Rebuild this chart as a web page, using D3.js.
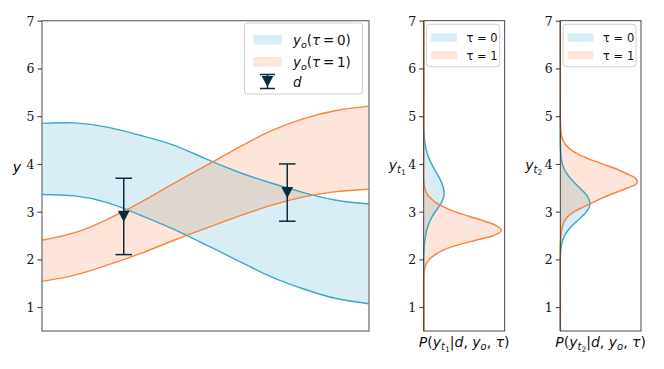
<!DOCTYPE html>
<html><head><meta charset="utf-8">
<script src="https://cdn.jsdelivr.net/npm/d3@7"></script>
<style>
html,body{margin:0;padding:0;background:#fff;}
svg{display:block;}
</style></head>
<body>
<svg id="c" width="664" height="369"></svg>
<script>
// ---- main panel data ----
const xs = [0,1,2,3,4,5,6,7,8,9,10];
const blueUpper   = [4.85,4.86,4.77,4.60,4.40,4.11,3.83,3.60,3.40,3.24,3.16];
const blueLower   = [3.36,3.33,3.19,2.93,2.64,2.31,1.97,1.64,1.38,1.18,1.07];
const orangeUpper = [2.40,2.56,2.84,3.19,3.58,3.96,4.34,4.69,4.95,5.12,5.21];
const orangeLower = [1.54,1.67,1.88,2.12,2.39,2.65,2.90,3.13,3.31,3.42,3.47];
const obsX = [2.5, 7.5];
const obsY = [2.9, 3.4];
const obsErr = [0.8, 0.6];
const yTicks = [1,2,3,4,5,6,7];

// ---- density panels (y grid, density) ----
const p1BlueY   = [0.5,1.5,2.0,2.1,2.2,2.3,2.4,2.5,2.6,2.7,2.8,2.9,3.0,3.1,3.2,3.3,3.4,3.5,3.6,3.7,3.8,3.9,4.0,4.1,4.2,4.3,4.4,4.5,4.6,4.7,4.8,5.3,7.0];
const p1BlueP   = [0,0,0,0.002,0.007,0.014,0.028,0.045,0.066,0.101,0.145,0.202,0.274,0.352,0.420,0.465,0.476,0.460,0.422,0.371,0.307,0.244,0.185,0.131,0.091,0.059,0.038,0.021,0.012,0.005,0,0,0];
const p1OrangeY = [0.5,1.1,1.6,1.7,1.8,1.9,2.0,2.1,2.2,2.3,2.4,2.5,2.6,2.7,2.8,2.9,3.0,3.1,3.2,3.3,3.4,3.5,3.6,3.7,4.2,7.0];
const p1OrangeP = [0,0,0,0.007,0.021,0.054,0.129,0.270,0.469,0.798,1.220,1.642,1.823,1.713,1.431,1.079,0.727,0.469,0.270,0.141,0.061,0.023,0.007,0,0,0];
const p2BlueY   = [0.5,1.5,2.0,2.1,2.2,2.3,2.4,2.5,2.6,2.7,2.8,2.9,3.0,3.1,3.2,3.3,3.4,3.5,3.6,3.7,3.8,3.9,4.0,4.1,4.2,4.3,4.4,4.5,5.0,7.0];
const p2BlueP   = [0,0,0,0.005,0.012,0.028,0.056,0.103,0.174,0.272,0.389,0.511,0.617,0.683,0.694,0.652,0.568,0.457,0.343,0.237,0.152,0.089,0.049,0.026,0.013,0.006,0.002,0,0,0];
const p2OrangeY = [0.5,1.8,2.3,2.4,2.5,2.6,2.7,2.8,2.9,3.0,3.1,3.2,3.3,3.4,3.5,3.6,3.7,3.8,3.9,4.0,4.1,4.2,4.3,4.4,4.5,4.6,4.7,4.8,4.9,5.4,7.0];
const p2OrangeP = [0,0,0,0.006,0.014,0.028,0.054,0.096,0.178,0.328,0.551,0.786,1.023,1.304,1.595,1.806,1.771,1.548,1.311,0.988,0.680,0.427,0.246,0.129,0.063,0.028,0.012,0.005,0,0,0];
const densMax = 1.9;

const BLUE = "#3fa7c8", ORANGE = "#f7843f", NAVY = "#0f2a3d";
const svg = d3.select("#c");
const TICKFONT = "DejaVu Serif";
const MATHFONT = "DejaVu Sans";

const yTop = 20.7, yBot = 331;
const y = d3.scaleLinear().domain([0.5, 7]).range([yBot, yTop]);

function yAxis(g, x0) {
  const ax = d3.axisLeft(y).tickValues(yTicks).tickFormat(d3.format("d")).tickSize(4.5).tickPadding(3);
  const a = g.append("g").attr("transform", `translate(${x0},0)`).call(ax);
  a.select(".domain").remove();
  a.selectAll("line").attr("stroke", "#333").attr("stroke-width", 1);
  a.selectAll("text").attr("font-family", TICKFONT).attr("font-size", 12.5).attr("fill", "#111").attr("dy", "0.36em");
}

// ---- main panel ----
const mL = 42, mR = 369;
const x = d3.scaleLinear().domain([0, 10]).range([mL, mR]);
const main = svg.append("g");
const pts = xs.map((v, i) => ({x: v, bu: blueUpper[i], bl: blueLower[i], ou: orangeUpper[i], ol: orangeLower[i]}));
const curve = d3.curveNatural;
main.append("path").datum(pts)
  .attr("d", d3.area().x(d => x(d.x)).y0(d => y(d.bl)).y1(d => y(d.bu)).curve(curve))
  .attr("fill", BLUE).attr("fill-opacity", 0.2);
main.append("path").datum(pts)
  .attr("d", d3.area().x(d => x(d.x)).y0(d => y(d.ol)).y1(d => y(d.ou)).curve(curve))
  .attr("fill", ORANGE).attr("fill-opacity", 0.2);
[["bu", BLUE], ["bl", BLUE], ["ou", ORANGE], ["ol", ORANGE]].forEach(([k, c]) => {
  main.append("path").datum(pts)
    .attr("d", d3.line().x(d => x(d.x)).y(d => y(d[k])).curve(curve))
    .attr("fill", "none").attr("stroke", c).attr("stroke-width", 1.4);
});
// error bars
const tri = (cx, cy, s) => `M${cx - s},${cy - s * 0.95}L${cx + s},${cy - s * 0.95}L${cx},${cy + s * 0.95}Z`;
obsX.forEach((ox, i) => {
  const cx = x(ox), lo = y(obsY[i] - obsErr[i]), hi = y(obsY[i] + obsErr[i]), cw = 8.3;
  main.append("line").attr("x1", cx).attr("x2", cx).attr("y1", lo).attr("y2", hi).attr("stroke", NAVY).attr("stroke-width", 1.5);
  main.append("line").attr("x1", cx - cw).attr("x2", cx + cw).attr("y1", lo).attr("y2", lo).attr("stroke", NAVY).attr("stroke-width", 1.5);
  main.append("line").attr("x1", cx - cw).attr("x2", cx + cw).attr("y1", hi).attr("y2", hi).attr("stroke", NAVY).attr("stroke-width", 1.5);
  main.append("path").attr("d", tri(cx, y(obsY[i]), 5.9)).attr("fill", NAVY);
});
main.append("rect").attr("x", mL).attr("y", yTop).attr("width", mR - mL).attr("height", yBot - yTop)
  .attr("fill", "none").attr("stroke", "#777").attr("stroke-width", 1.3);
yAxis(main, mL);
main.append("text").attr("x", 21).attr("y", 172).attr("text-anchor", "end")
  .attr("font-family", MATHFONT).attr("font-style", "italic").attr("font-size", 14).text("y");

// main legend
const lg = main.append("g");
lg.append("rect").attr("x", 244.5).attr("y", 23).attr("width", 118).attr("height", 71).attr("rx", 3)
  .attr("fill", "#fff").attr("fill-opacity", 0.85).attr("stroke", "#d0d0d0");
function yoLabel(t, tx, ty, val) {
  const tt = t.append("text").attr("x", tx).attr("y", ty).attr("font-family", MATHFONT).attr("font-size", 13.5).attr("fill", "#111");
  tt.append("tspan").attr("font-style", "italic").text("y");
  tt.append("tspan").attr("font-style", "italic").attr("font-size", 9.5).attr("dy", 3).text("o");
  tt.append("tspan").attr("dy", -3).text("(");
  tt.append("tspan").attr("font-style", "italic").text("τ");
  tt.append("tspan").text("\u2009=\u2009" + val + ")");
}
lg.append("rect").attr("x", 253.3).attr("y", 35).attr("width", 28.4).attr("height", 9.5).attr("fill", BLUE).attr("fill-opacity", 0.2);
yoLabel(lg, 293, 45, 0);
lg.append("rect").attr("x", 253.3).attr("y", 57).attr("width", 28.4).attr("height", 9.5).attr("fill", ORANGE).attr("fill-opacity", 0.2);
yoLabel(lg, 293, 66.5, 1);
{
  const cx = 267.5, cw = 7.5;
  lg.append("line").attr("x1", cx).attr("x2", cx).attr("y1", 74.5).attr("y2", 88.5).attr("stroke", NAVY).attr("stroke-width", 1.5);
  lg.append("line").attr("x1", cx - cw).attr("x2", cx + cw).attr("y1", 74.5).attr("y2", 74.5).attr("stroke", NAVY).attr("stroke-width", 1.5);
  lg.append("line").attr("x1", cx - cw).attr("x2", cx + cw).attr("y1", 88.5).attr("y2", 88.5).attr("stroke", NAVY).attr("stroke-width", 1.5);
  lg.append("path").attr("d", tri(cx, 81.5, 5.9)).attr("fill", NAVY);
  lg.append("text").attr("x", 293).attr("y", 87).attr("font-family", MATHFONT).attr("font-style", "italic").attr("font-size", 13.5).attr("fill", "#111").text("d");
}

// ---- density panels ----
function densPanel(L, R, bY, bP, oY, oP, sub) {
  const g = svg.append("g");
  const xd = d3.scaleLinear().domain([0, densMax]).range([L, R]);
  const bd = bY.map((v, i) => ({y: v, p: bP[i]}));
  const od = oY.map((v, i) => ({y: v, p: oP[i]}));
  const c = d3.curveCatmullRom.alpha(0.5);
  const area = d3.area().y(d => y(d.y)).x0(xd(0)).x1(d => xd(Math.max(0, d.p))).curve(c);
  const line = d3.line().y(d => y(d.y)).x(d => xd(d.p)).curve(c);
  g.append("path").datum(bd).attr("d", area).attr("fill", BLUE).attr("fill-opacity", 0.2);
  g.append("path").datum(od).attr("d", area).attr("fill", ORANGE).attr("fill-opacity", 0.2);
  g.append("path").datum(bd).attr("d", line).attr("fill", "none").attr("stroke", BLUE).attr("stroke-width", 1.5);
  g.append("path").datum(od).attr("d", line).attr("fill", "none").attr("stroke", ORANGE).attr("stroke-width", 1.5);
  g.append("rect").attr("x", L).attr("y", yTop).attr("width", R - L).attr("height", yBot - yTop)
    .attr("fill", "none").attr("stroke", "#333").attr("stroke-width", 0.9);
  yAxis(g, L);
  // ylabel y_t{sub}
  const yl = g.append("text").attr("x", L - 35).attr("y", 170).attr("font-family", MATHFONT).attr("font-size", 14).attr("fill", "#111");
  yl.append("tspan").attr("font-style", "italic").text("y");
  yl.append("tspan").attr("font-style", "italic").attr("font-size", 10).attr("dy", 3).text("t");
  yl.append("tspan").attr("font-size", 7.5).attr("dy", 2).text(sub);
  // xlabel
  const xl = g.append("text").attr("x", (L + R) / 2).attr("y", 347).attr("text-anchor", "middle")
    .attr("font-family", MATHFONT).attr("font-size", 14).attr("fill", "#111");
  xl.append("tspan").attr("font-style", "italic").text("P");
  xl.append("tspan").text("(");
  xl.append("tspan").attr("font-style", "italic").text("y");
  xl.append("tspan").attr("font-style", "italic").attr("font-size", 10).attr("dy", 3).text("t");
  xl.append("tspan").attr("font-size", 7.5).attr("dy", 2).text(sub);
  xl.append("tspan").attr("dy", -5).text("|");
  xl.append("tspan").attr("font-style", "italic").text("d");
  xl.append("tspan").text(", ");
  xl.append("tspan").attr("font-style", "italic").text("y");
  xl.append("tspan").attr("font-style", "italic").attr("font-size", 10).attr("dy", 3).text("o");
  xl.append("tspan").attr("dy", -3).text(", ");
  xl.append("tspan").attr("font-style", "italic").text("τ");
  xl.append("tspan").text(")");
  // legend
  const lx = L + 2.7;
  g.append("rect").attr("x", lx).attr("y", 24.3).attr("width", R - 5 - lx).attr("height", 42.4).attr("rx", 3)
    .attr("fill", "#fff").attr("fill-opacity", 0.85).attr("stroke", "#d0d0d0");
  [[BLUE, "0", 33.3], [ORANGE, "1", 51]].forEach(([col, v, yy]) => {
    g.append("rect").attr("x", lx + 4.5).attr("y", yy).attr("width", 26).attr("height", 8.4).attr("fill", col).attr("fill-opacity", 0.2);
    const t = g.append("text").attr("x", lx + 40).attr("y", yy + 8.6).attr("font-family", MATHFONT).attr("font-size", 11.5).attr("fill", "#111");
    t.append("tspan").text("τ");
    t.append("tspan").text(" = " + v);
  });
}
densPanel(423.7, 504.7, p1BlueY, p1BlueP, p1OrangeY, p1OrangeP, "1");
densPanel(560.3, 641, p2BlueY, p2BlueP, p2OrangeY, p2OrangeP, "2");
</script>
</body></html>
